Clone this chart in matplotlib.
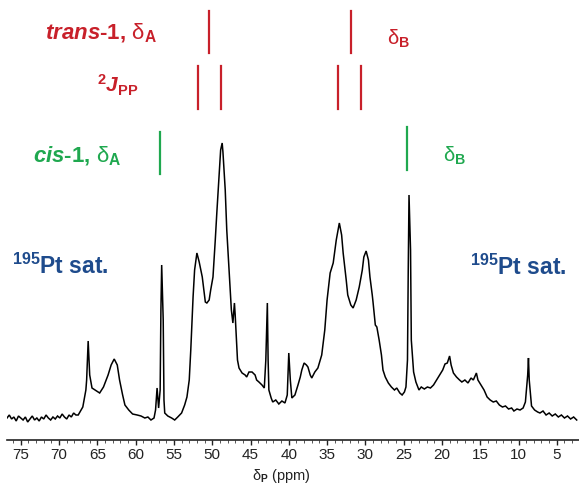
import matplotlib
matplotlib.use("Agg")
import matplotlib.pyplot as plt
from matplotlib.ticker import MultipleLocator

plt.rcParams["font.family"] = ["Liberation Sans", "DejaVu Sans"]
plt.rcParams["mathtext.fontset"] = "custom"
plt.rcParams["mathtext.rm"] = "Liberation Sans"
plt.rcParams["mathtext.it"] = "Liberation Sans:italic:bold"
plt.rcParams["mathtext.bf"] = "Liberation Sans:bold"
plt.rcParams["mathtext.sf"] = "Liberation Sans"

# ---- spectrum ----
baseline_ppm = [76.8, 76.5, 76.2, 75.9, 75.6, 75.3, 75.0, 74.7, 74.4, 74.1,
                73.8, 73.5, 73.2, 72.9, 72.6, 72.3, 72.0, 71.7, 71.4, 71.1,
                70.8, 70.5, 70.2, 69.9, 69.6, 69.3, 69.0, 68.7, 68.4, 68.1, 67.8]
baseline_int = [2, 5, 1, 3, -1, 4, 2, 0, 3, -2,
                1, 4, 0, 2, -1, 3, 1, 5, 2, 0,
                3, 1, 4, 2, 6, 3, 1, 5, 3, 7, 5]

signal_ppm = [67.5, 66.9, 66.5, 66.4, 66.2, 66.0, 65.7, 65.3, 64.7, 64.2,
              63.6, 63.2, 62.8, 62.4, 62.1, 61.7, 61.4, 60.9, 60.4, 59.8,
              59.3, 58.8, 58.4, 58.0, 57.6, 57.4, 57.2, 57.0, 56.8, 56.7,
              56.6, 56.4, 56.3, 56.2, 55.8, 55.3, 54.9, 54.5, 54.0, 53.6,
              53.3, 53.0, 52.8, 52.5, 52.3, 52.0, 51.7, 51.3, 50.9, 50.7,
              50.4, 50.2, 49.9, 49.6, 49.4, 49.1, 48.9, 48.7, 48.6, 48.3,
              48.1, 47.8, 47.5, 47.3, 47.1, 47.0, 46.7, 46.5, 46.1, 45.7,
              45.5, 45.2, 44.8, 44.4, 44.2, 43.9, 43.5, 43.2, 43.0, 42.8,
              42.7, 42.6, 42.3, 42.1, 41.7, 41.3, 40.9, 40.5, 40.2, 40.0,
              39.8, 39.6, 39.2, 38.8, 38.5, 38.3, 38.0, 37.7, 37.5, 37.2,
              37.0, 36.6, 36.2, 35.9, 35.7, 35.3, 35.0, 34.6, 34.2, 33.8,
              33.4, 33.1, 32.9, 32.5, 32.3, 31.9, 31.6, 31.2, 30.8, 30.4,
              30.2, 29.9, 29.6, 29.4, 29.1, 29.0, 28.7, 28.5, 28.2, 27.9,
              27.7, 27.4, 27.0, 26.6, 26.2, 25.9, 25.5, 25.2, 24.9, 24.7,
              24.5, 24.4, 24.3, 24.1, 24.0, 23.7, 23.4, 23.0, 22.7, 22.3,
              21.9, 21.5, 21.1, 20.7, 20.3, 19.9, 19.6, 19.3, 19.0, 18.8,
              18.5, 18.1, 17.7, 17.4, 17.0, 16.6, 16.2, 15.9, 15.5, 15.3,
              14.9, 14.5, 14.1, 13.7, 13.3, 12.9, 12.5, 12.1, 11.7, 11.3,
              10.9, 10.6, 10.2, 9.8, 9.4, 9.1, 8.8, 8.7, 8.6, 8.3,
              7.9, 7.5, 7.2, 6.8, 6.4, 6.0, 5.6, 5.2, 4.8, 4.4,
              4.0, 3.6, 3.2, 2.8, 2.4]
signal_int = [5, 13, 30, 40, 79, 45, 32, 30, 27, 33,
              45, 55, 61, 55, 40, 25, 15, 10, 6, 5,
              4, 2, 3, 0, 2, 10, 32, 12, 30, 110,
              155, 100, 20, 7, 4, 2, 0, 3, 7, 15,
              23, 40, 70, 123, 150, 167, 158, 143, 118, 117,
              120, 130, 143, 180, 207, 245, 270, 277, 268, 230,
              190, 150, 110, 97, 117, 105, 60, 52, 47, 45,
              43, 48, 48, 45, 40, 38, 35, 32, 60, 117,
              60, 30, 22, 18, 20, 16, 19, 17, 25, 67,
              40, 22, 25, 35, 43, 50, 57, 55, 53, 45,
              42, 48, 52, 60, 65, 90, 120, 147, 157, 180,
              197, 185, 167, 140, 125, 115, 112, 120, 133, 150,
              163, 169, 160, 143, 125, 118, 95, 93, 80, 65,
              50, 43, 37, 33, 30, 32, 27, 25, 28, 33,
              60, 150, 225, 170, 80, 48, 38, 30, 33, 31,
              33, 32, 35, 40, 45, 50, 56, 57, 64, 55,
              47, 43, 40, 38, 40, 37, 42, 40, 47, 40,
              35, 30, 23, 20, 18, 19, 15, 13, 14, 11,
              12, 9, 11, 10, 12, 18, 45, 62, 40, 14,
              10, 8, 7, 9, 5, 7, 4, 6, 3, 5,
              2, 4, 1, 3, 0]

# ---- assignments (ppm) ----
trans_shift_ppm = [50.4, 31.9]
trans_J_ppm = [51.9, 48.9, 33.6, 30.6]
cis_shift_ppm = [56.8, 24.5]
xtick_values = list(range(75, 4, -5))

RED = "#c8202a"
GREEN = "#1fa84f"
BLUE = "#1e4b8c"

fig = plt.figure(figsize=(5.79, 4.88), dpi=100)
ax = fig.add_axes([7 / 579, 48 / 488, 572 / 579, 440 / 488])

ax.plot(baseline_ppm + signal_ppm, baseline_int + signal_int,
        color="black", lw=1.1, solid_joinstyle="miter")

ax.set_xlim(76.8, 2.1)
ax.set_ylim(-20, 420)

for s in ["top", "left", "right"]:
    ax.spines[s].set_visible(False)
ax.spines["bottom"].set_linewidth(1.2)
ax.spines["bottom"].set_color("#222222")
ax.set_yticks([])
ax.set_xticks(xtick_values)
ax.xaxis.set_minor_locator(MultipleLocator(1))
ax.tick_params(axis="x", which="major", direction="out", length=3.5, width=1.0,
               labelsize=11, colors="#222222", pad=2)
ax.tick_params(axis="x", which="minor", direction="out", length=1.8, width=0.7,
               colors="#555555")
ax.set_xlabel(r"δ$_\mathbf{P}$ (ppm)", fontsize=10.5, color="#222222")
ax.xaxis.set_label_coords(0.48, -0.062)

# assignment sticks
for p in trans_shift_ppm:
    ax.plot([p, p], [367, 409], color=RED, lw=1.6)
for p in trans_J_ppm:
    ax.plot([p, p], [311, 354], color=RED, lw=1.6)
ax.plot([cis_shift_ppm[0]] * 2, [246, 288], color=GREEN, lw=1.6)
ax.plot([cis_shift_ppm[1]] * 2, [250, 293], color=GREEN, lw=1.6)

ax.text(71.9, 381, r"$\mathit{trans}$-1, $\mathrm{δ}_\mathbf{A}$", color=RED,
        fontsize=16, fontweight="bold", ha="left", va="baseline")
ax.text(27.2, 375, r"$\mathrm{δ}_\mathbf{B}$", color=RED,
        fontsize=14.5, fontweight="bold", ha="left", va="baseline")
ax.text(65.1, 328, r"${}^\mathbf{2}\mathit{J}_\mathbf{PP}$", color=RED,
        fontsize=15, fontweight="bold", ha="left", va="baseline")
ax.text(73.4, 258, r"$\mathit{cis}$-1, $\mathrm{δ}_\mathbf{A}$", color=GREEN,
        fontsize=16, fontweight="bold", ha="left", va="baseline")
ax.text(19.8, 258, r"$\mathrm{δ}_\mathbf{B}$", color=GREEN,
        fontsize=14.5, fontweight="bold", ha="left", va="baseline")
ax.text(76.2, 146, r"${}^\mathbf{195}$Pt sat.", color=BLUE,
        fontsize=16.5, fontweight="bold", ha="left", va="baseline")
ax.text(16.3, 145, r"${}^\mathbf{195}$Pt sat.", color=BLUE,
        fontsize=16.5, fontweight="bold", ha="left", va="baseline")

fig.savefig("out.png", dpi=100)
